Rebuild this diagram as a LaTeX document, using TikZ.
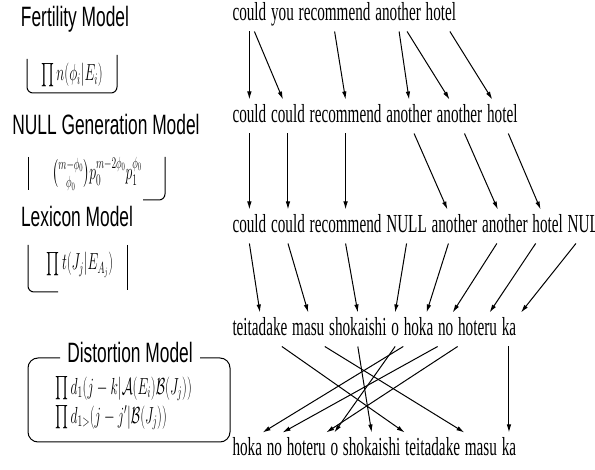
\documentclass[tikz,border=0pt]{standalone}
\usepackage{amsmath}
\usepackage{graphicx}
\usepackage{fontspec}
\newfontfamily\rowfont{Liberation Serif}[FakeStretch=0.585]
\newfontfamily\modelfont{Liberation Sans}[FakeStretch=0.62]
\usetikzlibrary{positioning,arrows.meta}
\newcommand{\fml}[1]{\scalebox{0.66}[1.12]{\fontsize{20}{22}\selectfont$#1$}}
\begin{document}
\begin{tikzpicture}[x=1pt,y=-1pt,node distance=3.8pt,
	every path/.style={line width=1pt},
	>={Latex[length=8pt,width=4.5pt]},
	word/.style={font=\rowfont\fontsize{26}{28}\selectfont,inner xsep=0pt,inner ysep=5pt,text height=18pt,text depth=5pt},
	modelname/.style={font=\modelfont\fontsize{28}{30}\selectfont,inner sep=1pt},
	formula/.style={inner sep=0pt}]
	\useasboundingbox (0,0) rectangle (595,470);

	\node[modelname] (fert) at (75,19) {Fertility Model};
	\node[formula] (fertf) at (72,75) {\fml{\prod n(\phi_i|E_i)}};
	\draw[rounded corners=6pt] (27,59) -- (27,93) -- (117,93) -- (117,55);

	\node[modelname] (null) at (106,124) {NULL Generation Model};
	\node[formula] (nullf) at (97,174) {\fml{\binom{m-\phi_0}{\phi_0}p_0^{m-2\phi_0}p_1^{\phi_0}}};
	\draw (28,157) -- (28,190);
	\draw[rounded corners=6pt] (165,157) -- (165,200) -- (143,200);

	\node[modelname] (lex) at (77,216) {Lexicon Model};
	\node[formula] (lexf) at (80,265) {\fml{\prod t(J_j|E_{A_j})}};
	\draw[rounded corners=6pt] (28,245) -- (28,292) -- (58,292);
	\draw (127,245) -- (127,290);

	\node[modelname] (dist) at (130,352) {Distortion Model};
	\draw[rounded corners=10pt] (60,358) -- (28,358) -- (28,442) -- (230,442) -- (230,358) -- (200,358);
	\node[formula,anchor=west] (distf) at (55,389) {\fml{\prod d_1(j-k|\mathcal{A}(E_i)\mathcal{B}(J_j))}};
	\node[formula,anchor=west] (distg) at (55,418) {\fml{\prod d_{1>}(j-j'|\mathcal{B}(J_j))}};

	\node[word,anchor=base west] (en1) at (232,21) {could};
	\node[word,base right=of en1] (en2) {you};
	\node[word,base right=of en2] (en3) {recommend};
	\node[word,base right=of en3] (en4) {another};
	\node[word,base right=of en4] (en5) {hotel};

	\node[word,anchor=base west] (fe1) at (232,123) {could};
	\node[word,base right=of fe1] (fe2) {could};
	\node[word,base right=of fe2] (fe3) {recommend};
	\node[word,base right=of fe3] (fe4) {another};
	\node[word,base right=of fe4] (fe5) {another};
	\node[word,base right=of fe5] (fe6) {hotel};

	\node[word,anchor=base west] (nu1) at (232,233) {could};
	\node[word,base right=of nu1] (nu2) {could};
	\node[word,base right=of nu2] (nu3) {recommend};
	\node[word,base right=of nu3] (nu4) {NULL};
	\node[word,base right=of nu4] (nu5) {another};
	\node[word,base right=of nu5] (nu6) {another};
	\node[word,base right=of nu6] (nu7) {hotel};
	\node[word,base right=of nu7] (nu8) {NULL};

	\node[word,anchor=base west] (ja1) at (232,336) {teitadake};
	\node[word,base right=of ja1] (ja2) {masu};
	\node[word,base right=of ja2] (ja3) {shokaishi};
	\node[word,base right=of ja3] (ja4) {o};
	\node[word,base right=of ja4] (ja5) {hoka};
	\node[word,base right=of ja5] (ja6) {no};
	\node[word,base right=of ja6] (ja7) {hoteru};
	\node[word,base right=of ja7] (ja8) {ka};

	\node[word,anchor=base west] (ro1) at (232,456) {hoka};
	\node[word,base right=of ro1] (ro2) {no};
	\node[word,base right=of ro2] (ro3) {hoteru};
	\node[word,base right=of ro3] (ro4) {o};
	\node[word,base right=of ro4] (ro5) {shokaishi};
	\node[word,base right=of ro5] (ro6) {teitadake};
	\node[word,base right=of ro6] (ro7) {masu};
	\node[word,base right=of ro7] (ro8) {ka};

	\draw[->] (en1.south) -- (fe1.north);
	\draw[->] ([xshift=5pt]en1.south) -- ([xshift=-5pt]fe2.north);
	\draw[->] (en3.south) -- (fe3.north);
	\draw[->] ([xshift=1pt]en4.south) -- (fe4.north);
	\draw[->] ([xshift=9pt]en4.south) -- ([xshift=-10pt]fe5.north);
	\draw[->] ([xshift=9pt]en5.south) -- ([xshift=-10pt]fe6.north);

	\draw[->] (fe1.south) -- (nu1.north);
	\draw[->] (fe2.south) -- (nu2.north);
	\draw[->] (fe3.south) -- (nu3.north);
	\draw[->] ([xshift=5pt]fe4.south) -- ([xshift=-7pt]nu5.north);
	\draw[->] ([xshift=5pt]fe5.south) -- ([xshift=-7pt]nu6.north);
	\draw[->] ([xshift=6pt]fe6.south) -- ([xshift=-7pt]nu7.north);

	\draw[->] (nu1.south) -- (ja1.north);
	\draw[->] (nu2.south) -- (ja2.north);
	\draw[->] (nu3.south) -- (ja3.north);
	\draw[->] (nu4.south) -- (ja4.north);
	\draw[->] ([xshift=-6pt]nu5.south) -- ([xshift=8pt]ja5.north);
	\draw[->] ([xshift=-8pt]nu6.south) -- ([xshift=7pt]ja6.north);
	\draw[->] ([xshift=-12pt]nu7.south) -- ([xshift=12pt]ja7.north);
	\draw[->] ([xshift=-12pt]nu8.south) -- ([xshift=12pt]ja8.north);

	\draw[->] ([xshift=-6pt]ja1.south east) -- (ro6.north west);
	\draw[->] (ja2.south east) -- (ro7.north west);
	\draw[->] (ja3.south) -- (ro5.north);
	\draw[->] (ja4.south) -- (ro4.north);
	\draw[->] (ja5.south west) -- (ro1.north east);
	\draw[->] (ja6.south west) -- (ro2.north east);
	\draw[->] (ja7.south west) -- (ro3.north east);
	\draw[->] (ja8.south) -- (ro8.north);
\end{tikzpicture}
\end{document}
